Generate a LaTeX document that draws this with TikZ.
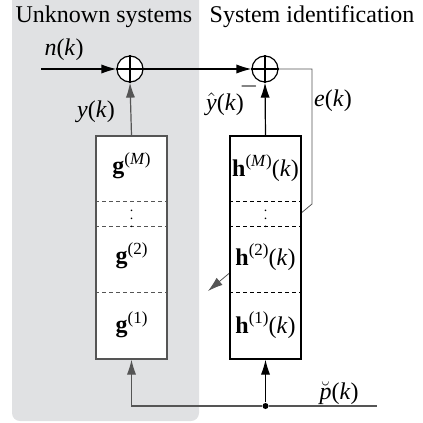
\documentclass[tikz,border=0pt]{standalone}
\usepackage{fontspec}
\setmainfont{Liberation Serif}
\usetikzlibrary{arrows.meta,backgrounds}
\definecolor{panel}{RGB}{224,225,227}
\definecolor{dline}{RGB}{85,85,85}
\newcommand\mi[1]{\textit{#1}}
\newcommand\sups[1]{\raisebox{0.85ex}{\fontsize{8.5}{9}\selectfont #1}}
\newcommand\ofk{(\mi{k})}
\tikzset{
  sumnode/.style={circle,draw,fill=white,minimum size=13pt,inner sep=0pt},
  blk/.style={draw,fill=white,minimum width=35.5pt,minimum height=111.5pt,inner sep=0pt},
  lbl/.style={inner sep=0pt,font=\fontsize{12}{14}\selectfont},
  junc/.style={circle,fill,minimum size=3pt,inner sep=0pt},
  arr/.style={-{Latex[length=7.5pt,width=4.6pt]}},
}
\begin{document}
\begin{tikzpicture}[x=0.5pt,y=-0.5pt,line width=0.6pt]
\useasboundingbox (0,0) rectangle (423,423);
% nodes
\node[sumnode] (s1) at (130,69) {};
\node[sumnode] (s2) at (265,69) {};
\node[blk,draw=dline] (g) at (131.5,247.5) {};
\node[blk] (h) at (265.5,247.5) {};
\node[junc] (dot) at (265.5,406) {};
\coordinate (nin) at (41,69);
\coordinate (pend) at (377,406);
\coordinate (ec1) at (312,69);
\coordinate (ec2) at (312,204);
\coordinate (etip) at (208,291);
% background
\begin{scope}[on background layer]
  \fill[panel,rounded corners=4pt] (12,-20) rectangle (199,421);
  \draw[dline,arr] (s2.east) -- (ec1) -- (ec2) -- (etip);
\end{scope}
% plus signs
\foreach \s in {s1,s2}{
  \draw (\s.north) -- (\s.south) (\s.west) -- (\s.east);
}
% dashed dividers
\foreach \b/\c in {g/dline,h/black}{
  \foreach \yy in {201,226,292}{
    \draw[dashed,\c,line width=0.5pt,dash pattern=on 2pt off 1.5pt] (\b.west |- 0,\yy) -- (\b.east |- 0,\yy);
  }
}
% connectors
\draw[arr] (nin) -- (s1.west);
\draw[arr] (s1.east) -- (s2.west);
\draw[arr,dline] (g.north) -- (s1.south);
\draw[arr] (h.north) -- (s2.south);
\draw[arr,dline] (dot) -| (g.south);
\draw[arr] (dot) -- (h.south);
\draw[dline] (dot) -- (pend);
% titles
\node[lbl] (t1) at (104,17) {Unknown systems};
\node[lbl] (t2) at (312,17) {System identification};
% labels
\node[lbl] (ln) at (64,50) {\mi{n}\ofk};
\node[lbl] (ly) at (96,112) {\mi{y}\ofk};
\node[lbl] (lyh) at (225,104) {$\hat{\mbox{\mi{y}}}$\ofk};
\node[lbl] (lm) at (249,86) {$-$};
\node[lbl] (le) at (333,101) {\mi{e}\ofk};
\node[lbl] (lp) at (339,393) {$\breve{\mbox{\mi{p}}}$\ofk};
% block contents
\node[lbl] at (131.5,166) {\textbf{g}\sups{(\mi{M})}};
\node[lbl] at (131.5,213) {\fontsize{7}{7}\selectfont$\vdots$};
\node[lbl] at (131.5,256) {\textbf{g}\sups{(2)}};
\node[lbl] at (131.5,325) {\textbf{g}\sups{(1)}};
\node[lbl] at (265.5,168) {\textbf{h}\sups{(\mi{M})}\ofk};
\node[lbl] at (265.5,213) {\fontsize{7}{7}\selectfont$\vdots$};
\node[lbl] at (265.5,257) {\textbf{h}\sups{(2)}\ofk};
\node[lbl] at (265.5,325) {\textbf{h}\sups{(1)}\ofk};
\end{tikzpicture}
\end{document}
